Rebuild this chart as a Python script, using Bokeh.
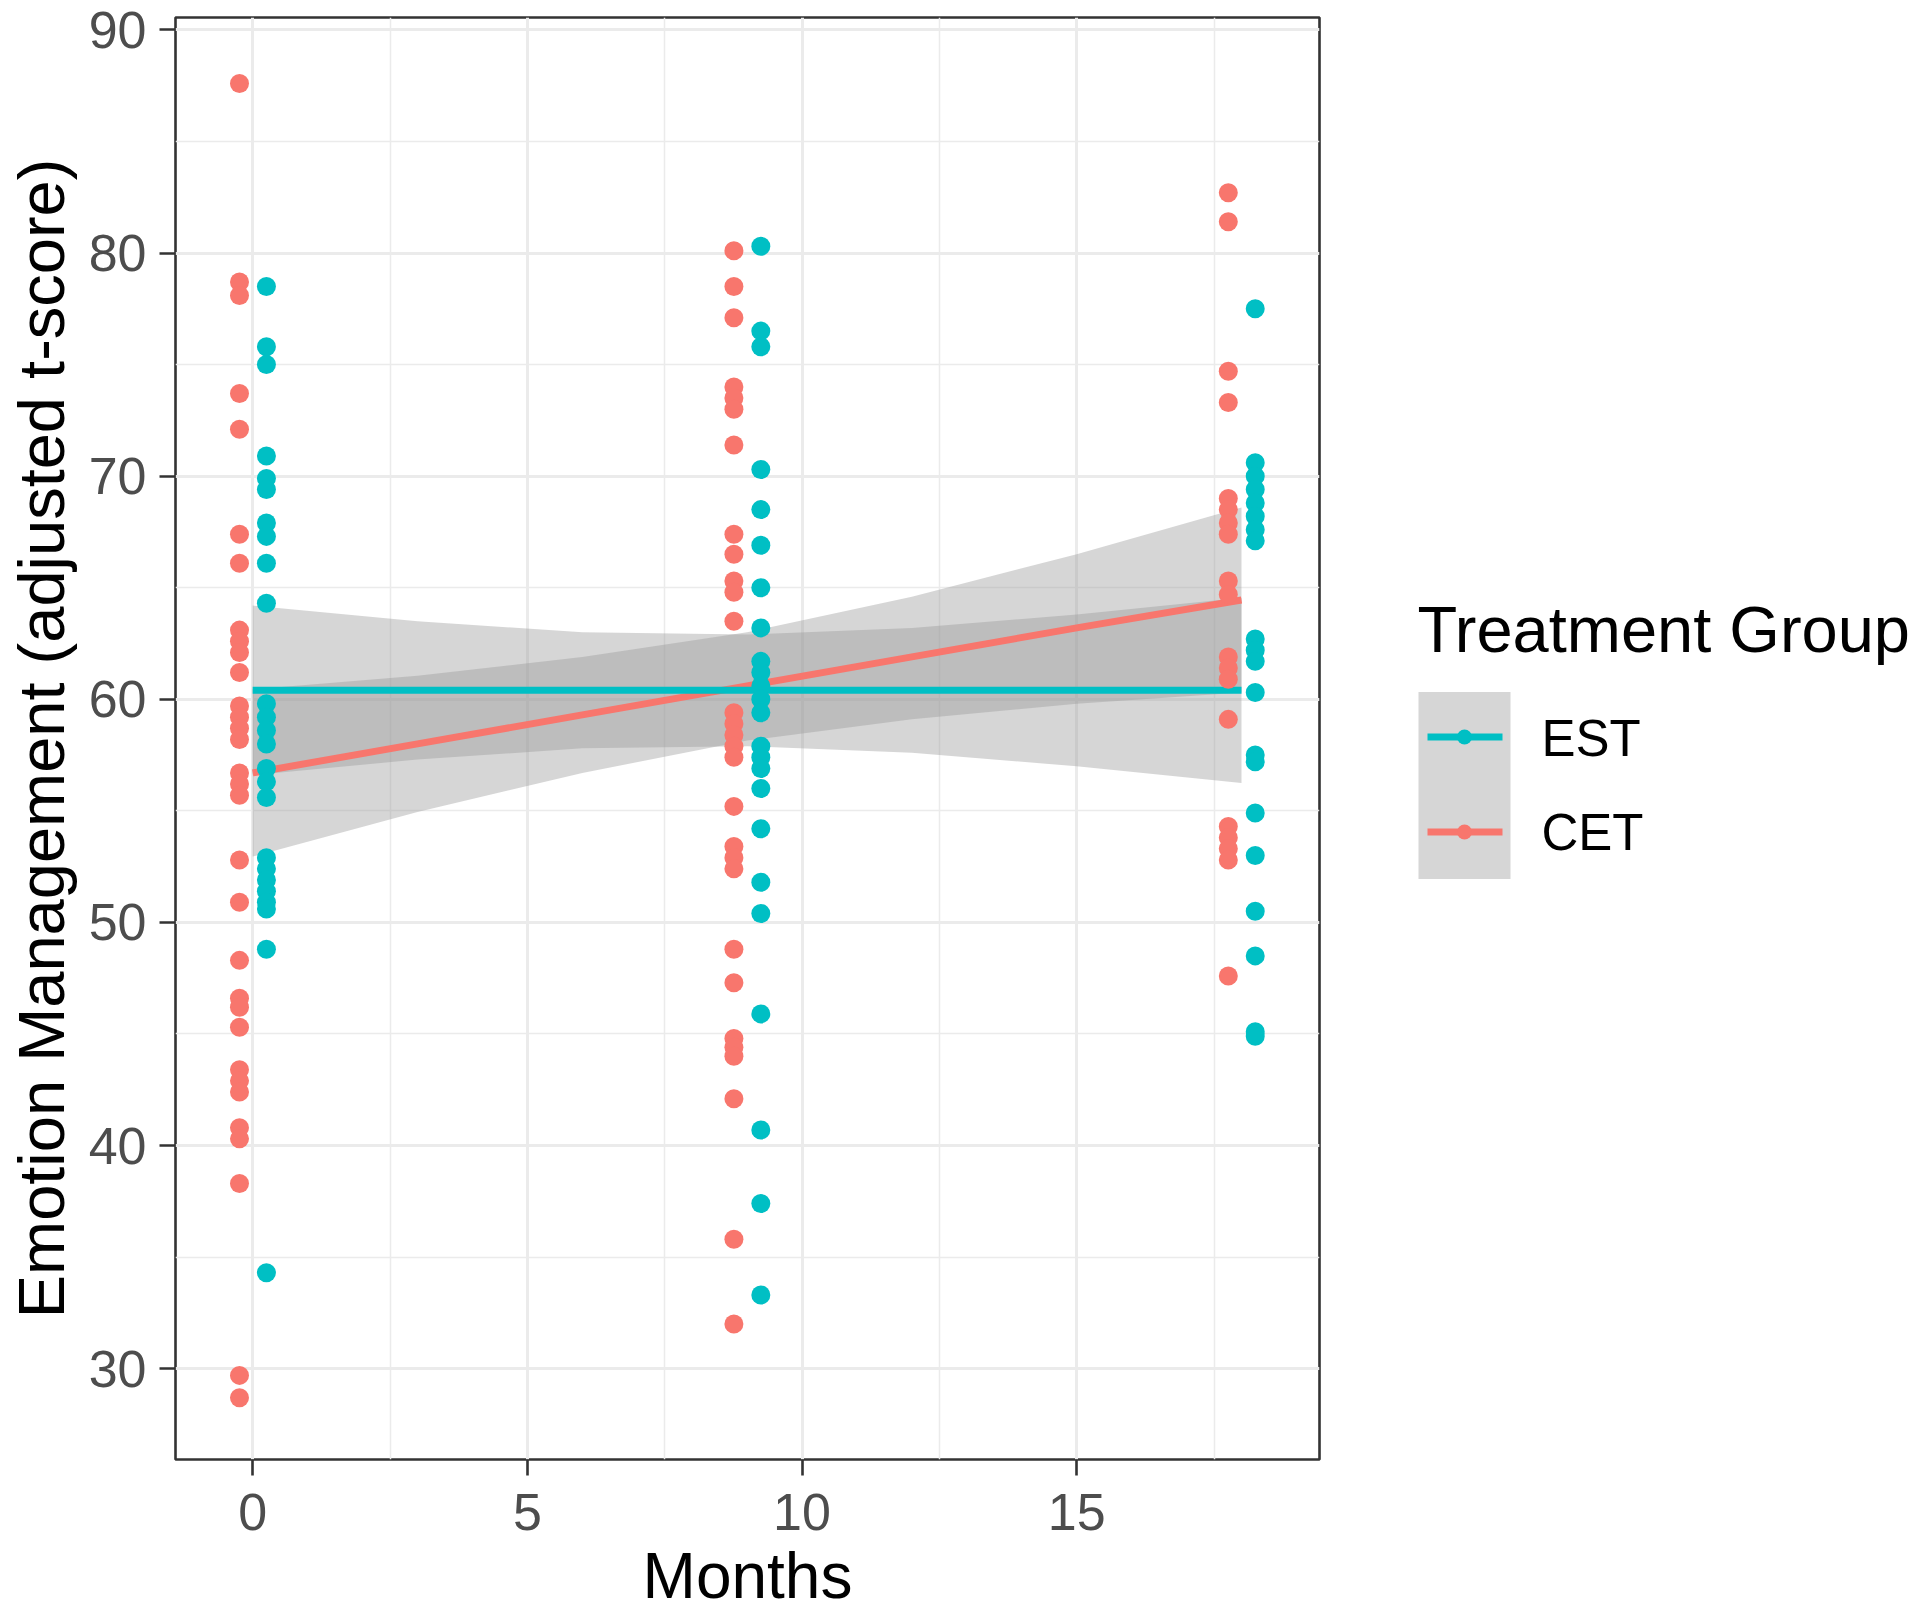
from bokeh.plotting import figure
from bokeh.models import ColumnDataSource, Range1d, FixedTicker
from bokeh.layouts import row
from bokeh.transform import dodge
from bokeh.core.properties import value
from bokeh.embed import file_html
from bokeh.resources import INLINE

# ---------------- data ----------------
months = [0, 9, 18]
groups = ["EST", "CET"]

cet_m0 = [87.6, 78.7, 78.1, 73.7, 72.1, 67.4, 66.1, 63.1, 62.6, 62.1, 61.2, 59.7, 59.2, 58.7,
          58.2, 56.7, 56.2, 55.7, 52.8, 50.9, 48.3, 46.6, 46.2, 45.3, 43.4, 42.9, 42.4, 40.8,
          40.3, 38.3, 29.7, 28.7]
cet_m9 = [80.1, 78.5, 77.1, 74.0, 73.5, 73.0, 71.4, 67.4, 66.5, 65.3, 64.8, 63.5, 59.4, 58.9,
          58.4, 57.9, 57.4, 55.2, 53.4, 52.9, 52.4, 48.8, 47.3, 44.8, 44.4, 44.0, 42.1, 35.8, 32.0]
cet_m18 = [82.7, 81.4, 74.7, 73.3, 69.0, 68.5, 67.9, 67.4, 65.3, 64.7, 61.9, 61.4, 60.9, 59.1,
           54.3, 53.8, 53.3, 52.8, 47.6]

est_m0 = [78.5, 75.8, 75.0, 70.9, 69.9, 69.4, 67.9, 67.3, 66.1, 64.3, 59.8, 59.2, 58.6, 58.0,
          56.9, 56.3, 55.6, 52.9, 52.4, 51.9, 51.4, 50.9, 50.6, 48.8, 34.3]
est_m9 = [80.3, 76.5, 75.8, 70.3, 68.5, 66.9, 65.0, 63.2, 61.7, 61.2, 60.6, 60.0, 59.4, 57.9,
          57.4, 56.9, 56.0, 54.2, 51.8, 50.4, 45.9, 40.7, 37.4, 33.3]
est_m18 = [77.5, 70.6, 70.0, 69.4, 68.8, 68.2, 67.6, 67.1, 62.7, 62.2, 61.7, 60.3, 57.5, 57.2,
           54.9, 53.0, 50.5, 48.5, 45.1, 44.9]

# linear fits with 95% confidence band
fit_months = [0, 3, 6, 9, 12, 15, 18]
est_fit = [60.4, 60.4, 60.4, 60.4, 60.4, 60.4, 60.4]
est_upper = [64.2, 63.5, 63.0, 62.9, 63.2, 63.8, 64.55]
est_lower = [56.6, 57.3, 57.8, 57.9, 57.6, 57.0, 56.25]
cet_fit = [56.7, 58.0, 59.3, 60.6, 61.9, 63.2, 64.45]
cet_upper = [60.45, 61.05, 61.9, 63.0, 64.6, 66.5, 68.6]
cet_lower = [52.95, 54.95, 56.7, 58.15, 59.1, 59.8, 60.3]

y_ticks = [30, 40, 50, 60, 70, 80, 90]
y_minor = [35, 45, 55, 65, 75, 85]
x_ticks = [0, 5, 10, 15]
x_minor = [2.5, 7.5, 12.5, 17.5]

# ---------------- style / layout ----------------
COL = {"EST": "#00BFC4", "CET": "#F8766D"}
FONT = "Liberation Sans"
DODGE = {"EST": 0.25, "CET": -0.24}
PAGE_W, PAGE_H = 1920, 1614
FR_L, FR_R, FR_T, FR_B = 175, 1319, 17, 1460
W1 = 1338

def pts(vals_by_month):
    xs, ys = [], []
    for m, vals in zip(months, vals_by_month):
        xs += [m] * len(vals)
        ys += vals
    return ColumnDataSource(dict(month=xs, score=ys))

src_pts = {"CET": pts([cet_m0, cet_m9, cet_m18]),
           "EST": pts([est_m0, est_m9, est_m18])}
src_fit = {"EST": ColumnDataSource(dict(month=fit_months, fit=est_fit, lo=est_lower, hi=est_upper)),
           "CET": ColumnDataSource(dict(month=fit_months, fit=cet_fit, lo=cet_lower, hi=cet_upper))}

p = figure(width=W1, height=PAGE_H, x_range=Range1d(-1.405, 19.42), y_range=Range1d(25.93, 90.555),
           output_backend="svg", toolbar_location=None,
           min_border_left=FR_L, min_border_right=W1 - FR_R, min_border_top=FR_T,
           min_border_bottom=PAGE_H - FR_B,
           x_axis_label="Months", y_axis_label="Emotion Management (adjusted t-score)")
p.background_fill_color = "white"
p.border_fill_color = "white"
p.outline_line_color = "#333333"
p.outline_line_width = 2.6

for ax, ticks, minor in ((p.xaxis, x_ticks, x_minor), (p.yaxis, y_ticks, y_minor)):
    ax.ticker = FixedTicker(ticks=ticks, minor_ticks=minor)
    ax.axis_line_color = None
    ax.major_tick_line_color = "#333333"
    ax.major_tick_line_width = 2.6
    ax.major_tick_out = 16
    ax.major_tick_in = 0
    ax.minor_tick_line_color = None
    ax.major_label_text_font = FONT
    ax.major_label_text_font_size = "52px"
    ax.major_label_text_color = "#4D4D4D"
    ax.axis_label_text_font = FONT
    ax.axis_label_text_font_style = "normal"
    ax.axis_label_text_color = "black"
p.xaxis.axis_label_text_font_size = "64px"
p.yaxis.axis_label_text_font_size = "65px"
p.yaxis.major_label_standoff = 13
p.yaxis.axis_label_standoff = 8
p.xaxis.major_label_standoff = 18
p.xaxis.axis_label_standoff = 7

for g in (p.xgrid, p.ygrid):
    g.grid_line_color = "#EBEBEB"
    g.grid_line_width = 3
    g.minor_grid_line_color = "#EBEBEB"
    g.minor_grid_line_width = 1.5

# confidence ribbons
for grp in ("EST", "CET"):
    p.varea(x="month", y1="lo", y2="hi", source=src_fit[grp], fill_color="#999999", fill_alpha=0.4)
# fitted lines
for grp in ("CET", "EST"):
    p.line(x="month", y="fit", source=src_fit[grp], line_color=COL[grp], line_width=7)
# points
for grp in ("CET", "EST"):
    p.scatter(x=dodge("month", DODGE[grp]), y="score", source=src_pts[grp], size=19,
              fill_color=COL[grp], line_color=None)

# ---------------- legend panel (page pixel coordinates) ----------------
leg = figure(width=PAGE_W - W1, height=PAGE_H, x_range=Range1d(W1, PAGE_W),
             y_range=Range1d(FR_B, FR_T), output_backend="svg", toolbar_location=None,
             x_axis_type=None, y_axis_type=None, min_border_left=0, min_border_right=0,
             min_border_top=FR_T, min_border_bottom=PAGE_H - FR_B)
leg.outline_line_color = None
leg.xgrid.visible = False
leg.ygrid.visible = False

leg.text(x=[1417], y=[629], text=["Treatment Group"], text_font=value(FONT),
         text_font_size="65px", text_color="black", text_baseline="alphabetic")
leg.quad(left=[1418], right=[1510], top=[692], bottom=[879], fill_color="#D6D6D6", line_color=None)
key_y = {"EST": 737, "CET": 832}
for grp in groups:
    ky = key_y[grp]
    leg.segment(x0=[1427], x1=[1502], y0=[ky], y1=[ky], line_color=COL[grp], line_width=7)
    leg.scatter(x=[1464], y=[ky], size=15, fill_color=COL[grp], line_color=None)
    leg.text(x=[1541], y=[ky + 1], text=[grp], text_font=value(FONT), text_font_size="51px",
             text_color="black", text_baseline="middle")

layout = row(p, leg)
open("out.html", "w").write(file_html(layout, INLINE))
